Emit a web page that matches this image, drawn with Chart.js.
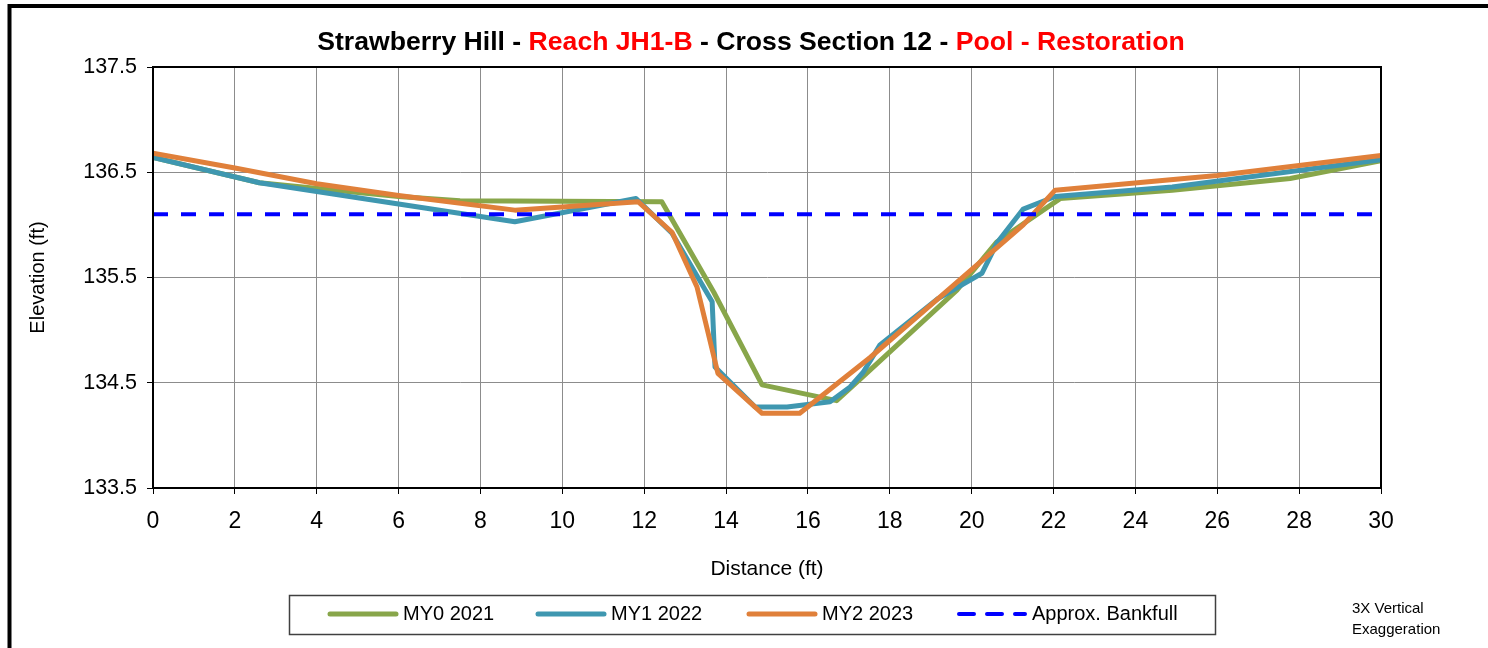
<!DOCTYPE html>
<html>
<head>
<meta charset="utf-8">
<script src="https://cdn.jsdelivr.net/npm/chart.js@4.4.0/dist/chart.umd.min.js"></script>
<style>
  html, body { margin: 0; padding: 0; background: #fff; }
  #wrap { width: 1488px; height: 648px; position: relative; }
</style>
</head>
<body>
<div id="wrap"><canvas id="xsChart" width="1488" height="648"></canvas></div>
<script>
// survey data: distance (ft) / elevation (ft)
const my0Dist = [0, 2.6, 6, 7.5, 12.43, 13.7, 14.88, 16.7, 17.35, 19.64, 20.62, 22.16, 24.9, 27.78, 30];
const my0Elev = [136.64, 136.40, 136.27, 136.23, 136.22, 135.36, 134.48, 134.33, 134.56, 135.38, 135.84, 136.25, 136.33, 136.44, 136.61];

const my1Dist = [0, 2.6, 8.84, 11.8, 12.68, 13.66, 13.73, 14.71, 15.49, 16.54, 17.03, 17.35, 17.76, 19.18, 20.25, 20.62, 21.26, 22.04, 24.9, 30];
const my1Elev = [136.64, 136.40, 136.03, 136.25, 135.92, 135.27, 134.65, 134.27, 134.27, 134.32, 134.46, 134.60, 134.86, 135.30, 135.54, 135.83, 136.15, 136.27, 136.36, 136.62];

const my2Dist = [0, 2, 4, 6, 8.84, 11.85, 12.68, 13.29, 13.8, 14.88, 15.8, 17.52, 19.18, 21.26, 22.04, 26, 30];
const my2Elev = [136.68, 136.54, 136.39, 136.28, 136.14, 136.22, 135.93, 135.41, 134.59, 134.21, 134.21, 134.74, 135.30, 136.00, 136.33, 136.47, 136.66];

const bankDist = [0, 30];
const bankElev = [136.1, 136.1];

const yTicks = [133.5, 134.5, 135.5, 136.5, 137.5];
const xTicks = [0, 2, 4, 6, 8, 10, 12, 14, 16, 18, 20, 22, 24, 26, 28, 30];

const seriesNames = ["MY0 2021", "MY1 2022", "MY2 2023", "Approx. Bankfull"];
const titleParts = [
  ["Strawberry Hill - ", "#000000"],
  ["Reach JH1-B", "#ff0000"],
  [" - Cross Section 12 - ", "#000000"],
  ["Pool - Restoration", "#ff0000"],
];
const noteLines = ["3X Vertical", "Exaggeration"];

const FONT = '"Liberation Sans", Arial, sans-serif';

function toPoints(xs, ys) {
  return xs.map((x, i) => ({ x: x, y: ys[i] }));
}

// outer frame, plot frame, title, legend box and note
const decor = {
  id: "decor",
  beforeDraw(chart) {
    const ctx = chart.ctx;
    ctx.save();
    ctx.fillStyle = "#fff";
    ctx.fillRect(0, 0, chart.width, chart.height);
    ctx.strokeStyle = "#000";
    ctx.lineWidth = 4;
    ctx.beginPath();
    ctx.moveTo(9.5, 648);
    ctx.lineTo(9.5, 6);
    ctx.lineTo(1488, 6);
    ctx.stroke();
    ctx.restore();
  },
  afterDraw(chart) {
    const ctx = chart.ctx;
    const a = chart.chartArea;
    ctx.save();
    ctx.strokeStyle = "#000";
    ctx.lineWidth = 2;
    ctx.strokeRect(a.left, a.top, a.right - a.left, a.bottom - a.top);

    // title in mixed colours
    ctx.font = "bold 26.6px " + FONT;
    ctx.textBaseline = "middle";
    ctx.textAlign = "left";
    let total = 0;
    titleParts.forEach((p) => (total += ctx.measureText(p[0]).width));
    let x = 751 - total / 2;
    titleParts.forEach((p) => {
      ctx.fillStyle = p[1];
      ctx.fillText(p[0], x, 43);
      x += ctx.measureText(p[0]).width;
    });

    // legend
    ctx.strokeStyle = "#404040";
    ctx.lineWidth = 1.5;
    ctx.strokeRect(289.5, 595.5, 926, 39);
    const sampleX = [328, 536, 747, 957];
    ctx.font = "20px " + FONT;
    chart.data.datasets.forEach((ds, i) => {
      const sx = sampleX[i];
      ctx.beginPath();
      ctx.strokeStyle = ds.borderColor;
      ctx.lineWidth = ds.borderWidth;
      ctx.lineCap = "round";
      ctx.setLineDash(ds.borderDash || []);
      ctx.moveTo(sx + 2, 614);
      ctx.lineTo(sx + 68, 614);
      ctx.stroke();
      ctx.setLineDash([]);
      ctx.fillStyle = "#000";
      ctx.fillText(ds.label, sx + 75, 614);
    });

    ctx.font = "15px " + FONT;
    ctx.fillText(noteLines[0], 1352, 609);
    ctx.fillText(noteLines[1], 1352, 630);
    ctx.restore();
  },
};

const ctx = document.getElementById("xsChart").getContext("2d");
new Chart(ctx, {
  type: "line",
  data: {
    datasets: [
      {
        label: seriesNames[0],
        data: toPoints(my0Dist, my0Elev),
        borderColor: "#88a64a",
        borderWidth: 5,
        order: 3,
      },
      {
        label: seriesNames[1],
        data: toPoints(my1Dist, my1Elev),
        borderColor: "#3f97b0",
        borderWidth: 5,
        order: 2,
      },
      {
        label: seriesNames[2],
        data: toPoints(my2Dist, my2Elev),
        borderColor: "#e0803a",
        borderWidth: 5,
        order: 1,
      },
      {
        label: seriesNames[3],
        data: toPoints(bankDist, bankElev),
        borderColor: "#0000ff",
        borderWidth: 4,
        borderDash: [15, 13],
        order: 0,
      },
    ],
  },
  options: {
    responsive: false,
    animation: false,
    events: [],
    layout: { padding: { left: 0, right: 107, top: 67, bottom: 60 } },
    elements: {
      point: { radius: 0 },
      line: { tension: 0, borderJoinStyle: "round", borderCapStyle: "butt", fill: false },
    },
    plugins: {
      legend: { display: false },
      title: { display: false },
      tooltip: { enabled: false },
    },
    scales: {
      x: {
        type: "linear",
        min: 0,
        max: 30,
        afterFit: (scale) => { scale.height = 100; },
        afterBuildTicks: (scale) => { scale.ticks = xTicks.map((v) => ({ value: v })); },
        ticks: {
          color: "#000",
          font: { family: FONT, size: 23 },
          padding: 14,
          maxRotation: 0,
        },
        grid: { color: "#8c8c8c", lineWidth: 1, tickColor: "#000", tickLength: 6 },
        border: { display: true, color: "#000", width: 2 },
        title: {
          display: true,
          text: "Distance (ft)",
          color: "#000",
          font: { family: FONT, size: 21 },
          padding: { top: 0, bottom: 6 },
        },
      },
      y: {
        type: "linear",
        min: 133.5,
        max: 137.5,
        afterFit: (scale) => { scale.width = 153; },
        afterBuildTicks: (scale) => { scale.ticks = yTicks.map((v) => ({ value: v })); },
        ticks: {
          color: "#000",
          font: { family: FONT, size: 21.5 },
          padding: 10,
          callback: (v) => Number(v).toFixed(1),
        },
        grid: { color: "#8c8c8c", lineWidth: 1, tickColor: "#000", tickLength: 6 },
        border: { display: true, color: "#000", width: 2 },
        title: {
          display: true,
          text: "Elevation (ft)",
          color: "#000",
          font: { family: FONT, size: 20 },
          padding: { top: 26, bottom: 0 },
        },
      },
    },
  },
  plugins: [decor],
});
</script>
</body>
</html>
